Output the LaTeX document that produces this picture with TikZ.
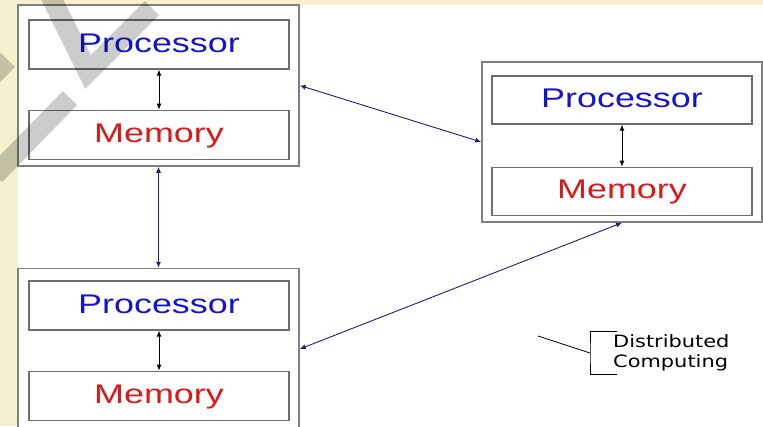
\documentclass[tikz,border=0pt]{standalone}
\usepackage{fontspec}
\newfontfamily\boxfont[FakeStretch=1.33]{Liberation Sans}
\newfontfamily\notefont[FakeStretch=1.23]{DejaVu Sans}
\usetikzlibrary{positioning,arrows.meta}
\definecolor{cream}{RGB}{246,240,206}
\definecolor{procblue}{RGB}{20,20,205}
\definecolor{memred}{RGB}{220,25,25}
\definecolor{linkblue}{RGB}{30,30,125}
\definecolor{boxgray}{RGB}{128,128,128}

\begin{document}
\begin{tikzpicture}[x=1pt,y=-1pt,
    outer/.style = {draw=boxgray, line width=1.5pt, minimum width=281pt, minimum height=161pt, inner sep=0pt},
    unit/.style = {draw=boxgray!85!black, line width=1.3pt, minimum width=260pt, minimum height=49pt, inner sep=0pt,
                   text height=19.3pt, text depth=4pt, font=\boxfont\fontsize{27}{32}\selectfont},
    proc/.style = {unit, text=procblue},
    mem/.style = {unit, text=memred},
    link/.style = {draw=linkblue, line width=0.9pt, {Latex[length=6pt,width=5pt]}-{Latex[length=6pt,width=5pt]}},
    bus/.style = {draw=black, line width=0.9pt, {Latex[length=6pt,width=5pt]}-{Latex[length=6pt,width=5pt]}},
    note/.style = {align=left, inner xsep=0pt, inner ysep=3pt, font=\notefont\fontsize{17}{19.5}\selectfont}]
    \useasboundingbox (0,0) rectangle (763,426);
    \fill[white] (0,0) rectangle (763,426);
    \fill[cream] (0,0) rectangle (763,5);
    \fill[cream] (0,0) rectangle (18,426);

    % three machines
    \node[outer] (b1) at (158.5,85.5) {};
    \node[proc] (p1) at (159,44.5) {Processor};
    \node[mem] (m1) [below=40pt of p1] {Memory};

    \node[outer, minimum width=280pt, minimum height=160pt] (b2) at (622,142) {};
    \node[proc, minimum height=48pt] (p2) at (622,100) {Processor};
    \node[mem, minimum height=48pt] (m2) [below=42pt of p2] {Memory};

    \node[outer] (b3) [below=101pt of b1] {};
    \node[proc] (p3) at (159,305.5) {Processor};
    \node[mem] (m3) [below=40pt of p3] {Memory};

    \draw[bus] (p1) -- (m1);
    \draw[bus] (p2) -- (m2);
    \draw[bus] (p3) -- (m3);

    \draw[link] (b1) -- (b3);
    \draw[link] (b1.east) -- (b2.west);
    \draw[link] (b2.south) -- (b3.east);

    % label
    \node[note, anchor=west] (lbl) at (613,353) {Distributed\\Computing};
    \coordinate (ptr) at (538,336);
    \draw[line width=0.8pt] ([xshift=4pt]lbl.north west) -| ([xshift=-23pt]lbl.west) |- ([xshift=4pt]lbl.south west);
    \draw[line width=0.8pt] (ptr) -- ([xshift=-23pt]lbl.west);

    % watermark
    \begin{scope}[line width=20pt, black, opacity=0.2]
        \draw[line join=miter] (50,-5) -- (88,72) -- (152,8);
        \draw (70,98) -- (-5,175);
        \draw (-12,80) -- (8,60);
    \end{scope}
\end{tikzpicture}
\end{document}
